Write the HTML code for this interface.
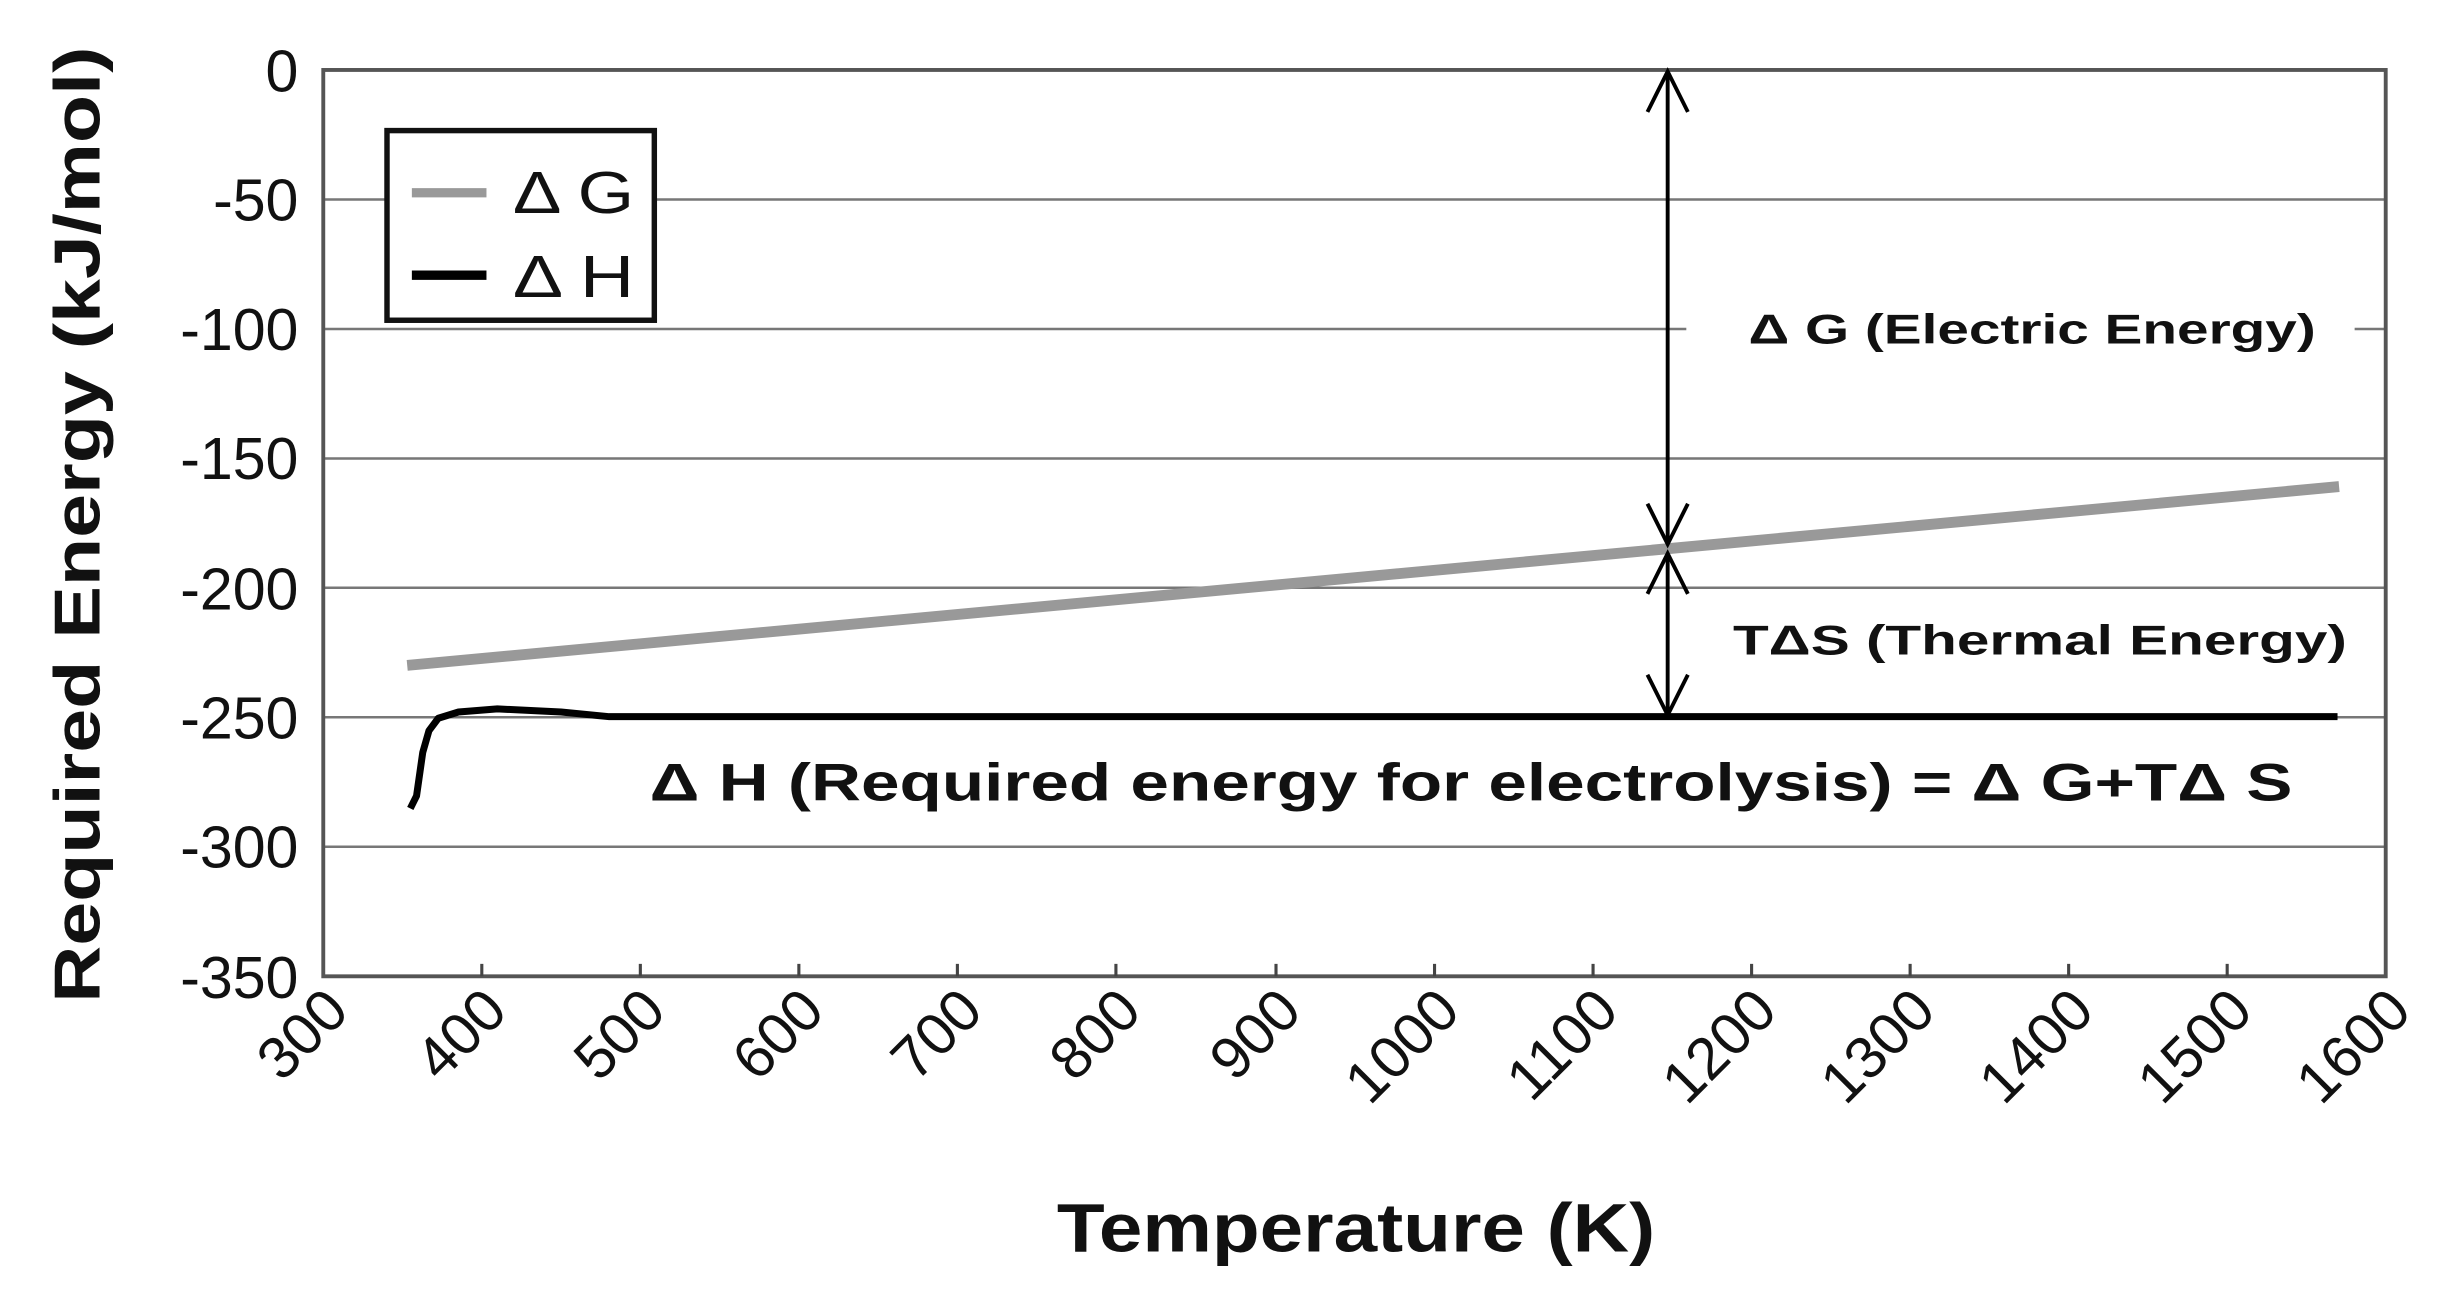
<!DOCTYPE html>
<html><head><meta charset="utf-8"><style>html,body{margin:0;padding:0;background:#fff}svg{display:block}</style></head>
<body>
<svg width="2437" height="1295" viewBox="0 0 1568 833" preserveAspectRatio="none" xmlns="http://www.w3.org/2000/svg" font-family="Liberation Sans, Arial, sans-serif">
<rect width="1568" height="833" fill="#fff"/>
<g stroke="#777" stroke-width="1.6">
<line x1="208" x2="1535" y1="128.3" y2="128.3"/>
<line x1="208" x2="1535" y1="211.6" y2="211.6"/>
<line x1="208" x2="1535" y1="294.9" y2="294.9"/>
<line x1="208" x2="1535" y1="378.1" y2="378.1"/>
<line x1="208" x2="1535" y1="461.4" y2="461.4"/>
<line x1="208" x2="1535" y1="544.7" y2="544.7"/>
</g>
<rect x="208" y="45" width="1327" height="583" fill="none" stroke="#555" stroke-width="2.5"/>
<g stroke="#444" stroke-width="2">
<line x1="310" x2="310" y1="628" y2="620"/><line x1="412" x2="412" y1="628" y2="620"/><line x1="514" x2="514" y1="628" y2="620"/><line x1="616" x2="616" y1="628" y2="620"/><line x1="718" x2="718" y1="628" y2="620"/><line x1="821" x2="821" y1="628" y2="620"/><line x1="923" x2="923" y1="628" y2="620"/><line x1="1025" x2="1025" y1="628" y2="620"/><line x1="1127" x2="1127" y1="628" y2="620"/><line x1="1229" x2="1229" y1="628" y2="620"/><line x1="1331" x2="1331" y1="628" y2="620"/><line x1="1433" x2="1433" y1="628" y2="620"/>
</g>
<rect x="1085" y="190" width="430" height="40" fill="#fff"/>
<rect x="1085" y="390" width="430" height="40" fill="#fff"/>
<line x1="262" y1="428" x2="1505" y2="313" stroke="#999" stroke-width="7"/>
<polyline points="264,520 268,512 270,498 272,484 276,470 282,462 295,458 320,456 361,458 392,461 1504,461" fill="none" stroke="#000" stroke-width="4.5" stroke-linejoin="round"/>
<g stroke="#000" stroke-width="2.5" fill="none">
<line x1="1073" y1="46" x2="1073" y2="350"/>
<polyline points="1060,72 1073,46 1086,72"/>
<polyline points="1060,324 1073,350 1086,324"/>
<line x1="1073" y1="356" x2="1073" y2="460"/>
<polyline points="1060,382 1073,356 1086,382"/>
<polyline points="1060,434 1073,460 1086,434"/>
</g>
<g font-weight="bold" fill="#111">
<text x="1125" y="221" font-size="27" textLength="365" lengthAdjust="spacingAndGlyphs">Δ G (Electric Energy)</text>
<text x="1115" y="421" font-size="27" textLength="395" lengthAdjust="spacingAndGlyphs">TΔS (Thermal Energy)</text>
<text x="418" y="515" font-size="34" textLength="1057" lengthAdjust="spacingAndGlyphs">Δ H (Required energy for electrolysis) = Δ G+TΔ S</text>
</g>
<rect x="249" y="84" width="172" height="122" fill="#fff" stroke="#111" stroke-width="3.5"/>
<line x1="265" y1="124" x2="313" y2="124" stroke="#999" stroke-width="6"/>
<line x1="265" y1="177" x2="313" y2="177" stroke="#000" stroke-width="6"/>
<text x="330" y="137" font-size="38" fill="#111" textLength="78" lengthAdjust="spacingAndGlyphs">Δ G</text>
<text x="330" y="191" font-size="38" fill="#111" textLength="78" lengthAdjust="spacingAndGlyphs">Δ H</text>
<g font-size="38" text-anchor="end" fill="#111">
<text x="192" y="59">0</text><text x="192" y="142">-50</text><text x="192" y="225">-100</text><text x="192" y="308">-150</text><text x="192" y="392">-200</text><text x="192" y="475">-250</text><text x="192" y="558">-300</text><text x="192" y="642">-350</text>
</g>
<g font-size="38" text-anchor="end" fill="#111">
<text transform="translate(226,652) rotate(-45)">300</text>
<text transform="translate(328,652) rotate(-45)">400</text>
<text transform="translate(430,652) rotate(-45)">500</text>
<text transform="translate(532,652) rotate(-45)">600</text>
<text transform="translate(634,652) rotate(-45)">700</text>
<text transform="translate(736,652) rotate(-45)">800</text>
<text transform="translate(839,652) rotate(-45)">900</text>
<text transform="translate(941,652) rotate(-45)">1000</text>
<text transform="translate(1043,652) rotate(-45)">1100</text>
<text transform="translate(1145,652) rotate(-45)">1200</text>
<text transform="translate(1247,652) rotate(-45)">1300</text>
<text transform="translate(1349,652) rotate(-45)">1400</text>
<text transform="translate(1451,652) rotate(-45)">1500</text>
<text transform="translate(1553,652) rotate(-45)">1600</text>
</g>
<text x="680" y="805" font-size="44" font-weight="bold" fill="#111" textLength="385" lengthAdjust="spacingAndGlyphs">Temperature (K)</text>
<text transform="translate(64,645) rotate(-90)" font-size="42" font-weight="bold" fill="#111" textLength="615" lengthAdjust="spacingAndGlyphs">Required Energy (kJ/mol)</text>
</svg>
</body></html>
